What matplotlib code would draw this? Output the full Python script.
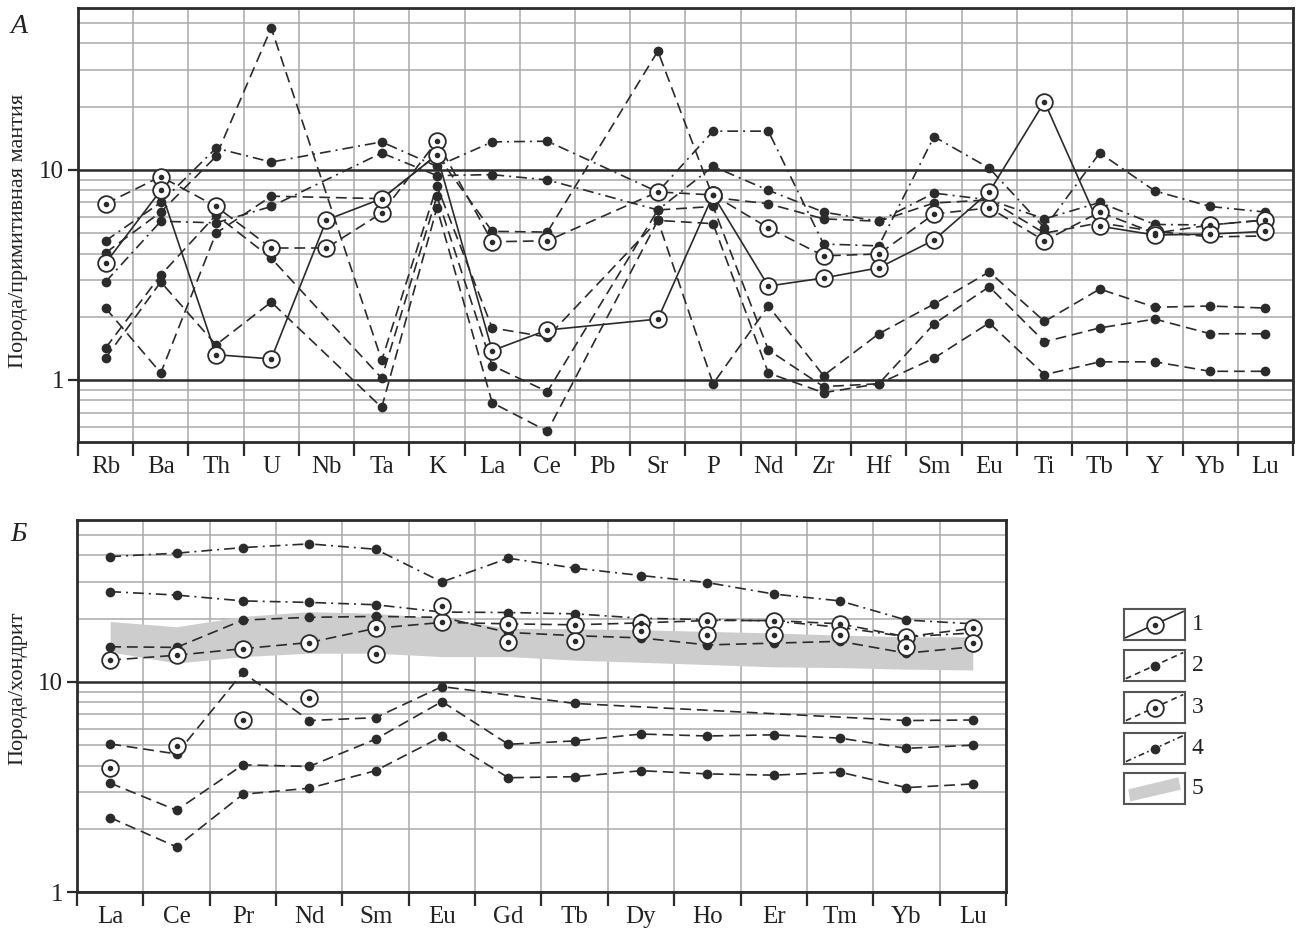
import numpy as np
import matplotlib.pyplot as plt
from matplotlib.ticker import FixedLocator, NullFormatter, FixedFormatter
from matplotlib.patches import Polygon

plt.rcParams['font.family'] = ['Liberation Serif', 'DejaVu Serif']

nan = np.nan

# ---- panel A: rock / primitive mantle ----
spider_elems = ['Rb', 'Ba', 'Th', 'U', 'Nb', 'Ta', 'K', 'La', 'Ce', 'Pb', 'Sr',
                'P', 'Nd', 'Zr', 'Hf', 'Sm', 'Eu', 'Ti', 'Tb', 'Y', 'Yb', 'Lu']

# type 1 - solid line, ringed points
pm_s1 = [3.6, 8.0, 1.32, 1.26, 5.78, 7.3, 11.8, 1.38, 1.73, nan, 1.95,
         7.6, 2.8, 3.06, 3.42, 4.64, 7.86, 21.1, 5.4, 4.9, 4.95, 5.1]
# type 3 - dashed line, ringed points
pm_s3 = [6.9, 9.3, 6.7, 4.25, 4.25, 6.24, 13.7, 4.55, 4.6, nan, 7.86,
         7.6, 5.3, 3.9, 3.98, 6.17, 6.6, 4.6, 6.3, 5.0, 5.47, 5.78]
# type 4 - dash-dot line, dots
pm_f1 = [4.6, 7.0, 12.7, 10.9, nan, 13.6, 10.4, 13.6, 13.7, nan, 7.86,
         15.3, 15.3, 4.44, 4.35, 14.4, 10.2, 5.3, 12.05, 7.94, 6.7, 6.3]
pm_f2 = [2.93, 5.7, 5.6, 6.7, nan, 12.05, 9.4, 9.5, 8.96, nan, 6.45,
         10.4, 8.0, 6.3, 5.7, 7.76, 7.2, 5.85, 7.0, 5.5, 5.47, 5.78]
# type 2 - dashed line, dots
pm_f3 = [2.2, 1.08, 5.0, 7.5, nan, 7.3, 11.8, 5.1, 5.06, nan, 36.8,
         7.4, 6.9, 5.85, 5.7, 6.96, 7.2, 5.0, 5.6, 5.1, 4.8, 4.85]
pm_f4 = [4.03, 6.3, 11.6, 47.4, nan, 1.24, 8.4, 1.77, 1.6, nan, 5.75,
         0.96, 2.25, 1.05, 1.66, 2.3, 3.27, 1.9, 2.71, 2.22, 2.25, 2.2]
pm_f5 = [1.42, 3.16, 6.1, 3.8, nan, 1.02, 7.5, 1.17, 0.88, nan, 6.45,
         6.7, 1.39, 0.93, 0.96, 1.85, 2.78, 1.52, 1.77, 1.95, 1.66, 1.66]
pm_f6 = [1.27, 2.93, 1.47, 2.35, nan, 0.74, 6.6, 0.78, 0.57, nan, 5.75,
         5.55, 1.08, 0.87, 0.96, 1.27, 1.87, 1.06, 1.22, 1.22, 1.1, 1.1]

# ---- panel B: rock / chondrite ----
ree = ['La', 'Ce', 'Pr', 'Nd', 'Sm', 'Eu', 'Gd', 'Tb', 'Dy', 'Ho', 'Er', 'Tm', 'Yb', 'Lu']

ch_s1 = [3.88, 4.98, 6.59, 8.42, 13.6, 22.9, 15.5, 15.7, 17.4, 16.7, 16.7, 16.7, 14.7, 15.3]
ch_s3 = [12.7, 13.4, 14.4, 15.4, 18.0, 19.2, 18.9, 18.7, 19.1, 19.6, 19.6, 18.9, 16.4, 18.0]
ch_f1 = [39.5, 41.0, 43.6, 45.4, 42.8, 29.9, 38.8, 34.8, 32.1, 29.7, 26.2, 24.3, 19.7, 18.9]
ch_f2 = [26.9, 25.9, 24.3, 23.9, 23.3, 21.5, 21.4, 21.1, 20.1, 19.8, 19.5, 18.2, 16.4, 17.1]
ch_f3 = [14.7, 14.6, 19.7, 20.3, 20.5, 20.3, 17.2, 16.6, 16.2, 15.0, 15.3, 15.6, 13.7, 14.7]
ch_f4 = [5.07, 4.54, 11.1, 6.55, 6.76, 9.5, nan, 7.9, nan, nan, nan, nan, 6.55, 6.59]
ch_f5 = [3.3, 2.45, 4.03, 3.96, 5.34, 8.06, 5.05, 5.24, 5.65, 5.53, 5.6, 5.4, 4.83, 5.0]
ch_f6 = [2.26, 1.64, 2.92, 3.12, 3.78, 5.5, 3.5, 3.54, 3.78, 3.65, 3.6, 3.72, 3.14, 3.27]
# field 5
band_hi = [19.4, 18.3, 20.5, 21.6, 21.2, 20.1, 18.0, 17.9, 17.7, 17.4, 17.1, 16.7, 16.4, 16.4]
band_lo = [13.9, 12.3, 13.2, 13.7, 13.7, 13.2, 13.2, 12.7, 12.4, 12.1, 11.8, 11.7, 11.5, 11.4]

INK = '#2b2b2b'
GRID = '#a9a9a9'
DASH = (6.5, 3.5)
DASHDOT = (6.5, 3.0, 1.2, 3.0)


def draw(ax, vals, line, ring):
    y = np.asarray(vals, float)
    x = np.arange(len(y))
    ok = ~np.isnan(y)
    x, y = x[ok], y[ok]
    if line == 'solid':
        ax.plot(x, y, color=INK, lw=1.2, zorder=2)
    elif line == 'dash':
        ax.plot(x, y, color=INK, lw=1.2, dashes=DASH, zorder=2)
    elif line == 'dashdot':
        ax.plot(x, y, color=INK, lw=1.2, dashes=DASHDOT, zorder=2)
    if ring:
        ax.plot(x, y, ls='none', marker='o', ms=12, mfc='white', mec=INK, mew=1.3, zorder=4)
        ax.plot(x, y, ls='none', marker='o', ms=3, color=INK, zorder=5)
    else:
        ax.plot(x, y, ls='none', marker='o', ms=7, color=INK, mew=0, zorder=3)


def setup(ax, labels, ylim):
    n = len(labels)
    ax.set_yscale('log')
    ax.set_xlim(-0.5, n - 0.5)
    ax.set_ylim(*ylim)
    ax.xaxis.set_major_locator(FixedLocator(np.arange(n + 1) - 0.5))
    ax.xaxis.set_major_formatter(NullFormatter())
    ax.xaxis.set_minor_locator(FixedLocator(np.arange(n)))
    ax.xaxis.set_minor_formatter(FixedFormatter(labels))
    ax.tick_params(axis='x', which='major', direction='out', length=10, width=1.6, color=INK)
    ax.tick_params(axis='x', which='minor', length=0, pad=10, labelsize=18, labelcolor='#222')
    ax.yaxis.set_major_locator(FixedLocator([1, 10]))
    ax.yaxis.set_major_formatter(FixedFormatter(['1', '10']))
    minors = [v * d for d in (0.1, 1, 10) for v in range(2, 10)]
    ax.yaxis.set_minor_locator(FixedLocator(minors))
    ax.yaxis.set_minor_formatter(NullFormatter())
    ax.tick_params(axis='y', which='major', direction='out', length=7, width=1.6,
                   color=INK, labelsize=18, pad=3, labelcolor='#222')
    ax.tick_params(axis='y', which='minor', length=0)
    ax.grid(which='minor', axis='y', color=GRID, lw=1.1)
    ax.grid(which='major', axis='y', color=INK, lw=1.8)
    ax.grid(which='major', axis='x', color=GRID, lw=1.1)
    for s in ax.spines.values():
        s.set_color(INK)
        s.set_linewidth(2)
    ax.set_axisbelow(True)


fig = plt.figure(figsize=(12.99, 9.33), dpi=100)

ax1 = fig.add_axes([0.0600, 0.5263, 0.9354, 0.4651])
setup(ax1, spider_elems, (0.507, 59))
for vals in (pm_f3, pm_f4, pm_f5, pm_f6):
    draw(ax1, vals, 'dash', False)
for vals in (pm_f1, pm_f2):
    draw(ax1, vals, 'dashdot', False)
draw(ax1, pm_s3, 'dash', True)
draw(ax1, pm_s1, 'solid', True)

ax2 = fig.add_axes([0.0593, 0.0439, 0.7151, 0.3988])
setup(ax2, ree, (1, 59))
ax2.fill_between(np.arange(len(ree)), band_lo, band_hi, color='#cdcdcd', lw=0, zorder=1)
for vals in (ch_f3, ch_f4, ch_f5, ch_f6):
    draw(ax2, vals, 'dash', False)
for vals in (ch_f1, ch_f2):
    draw(ax2, vals, 'dashdot', False)
draw(ax2, ch_s3, 'dash', True)
draw(ax2, ch_s1, None, True)

# axis titles and panel letters
fig.text(0.0139, 0.752, 'Порода/примитивная мантия', rotation=90, ha='center', va='center',
         fontsize=16, color='#222')
fig.text(0.0139, 0.262, 'Порода/хондрит', rotation=90, ha='center', va='center',
         fontsize=16, color='#222')
fig.text(0.008, 0.972, 'А', style='italic', fontsize=20, ha='left', va='center', color='#222')
fig.text(0.008, 0.427, 'Б', style='italic', fontsize=20, ha='left', va='center', color='#222')

# legend boxes
legend_items = [('solid', True), ('dash', False), ('dash', True), ('dashdot', False), ('band', None)]
box_bottoms = [0.314, 0.270, 0.225, 0.181, 0.138]
for i, ((line, ring), b) in enumerate(zip(legend_items, box_bottoms)):
    lx = fig.add_axes([0.8653, b, 0.047, 0.0332])
    lx.set_xlim(0, 1)
    lx.set_ylim(0, 1)
    lx.set_xticks([])
    lx.set_yticks([])
    for s in lx.spines.values():
        s.set_color('#555')
        s.set_linewidth(1.5)
    if line == 'band':
        lx.add_patch(Polygon([[0.10, 0.09], [0.07, 0.48], [0.89, 0.87], [0.93, 0.47]],
                             closed=True, color='#cdcdcd', lw=0))
    else:
        kw = dict(color=INK, lw=1.2)
        if line == 'dash':
            kw['dashes'] = (3.5, 2.5)
        elif line == 'dashdot':
            kw['dashes'] = (3.5, 2.0, 1.0, 2.0)
        lx.plot([0.03, 0.97], [0.08, 0.92], **kw)
        if ring:
            lx.plot([0.5], [0.5], marker='o', ms=12, mfc='white', mec=INK, mew=1.3)
            lx.plot([0.5], [0.5], marker='o', ms=3, color=INK)
        else:
            lx.plot([0.5], [0.5], marker='o', ms=7, color=INK, mew=0)
    fig.text(0.9175, b + 0.0166, str(i + 1), fontsize=17, ha='left', va='center', color='#222')

fig.savefig('out.png', dpi=100)
